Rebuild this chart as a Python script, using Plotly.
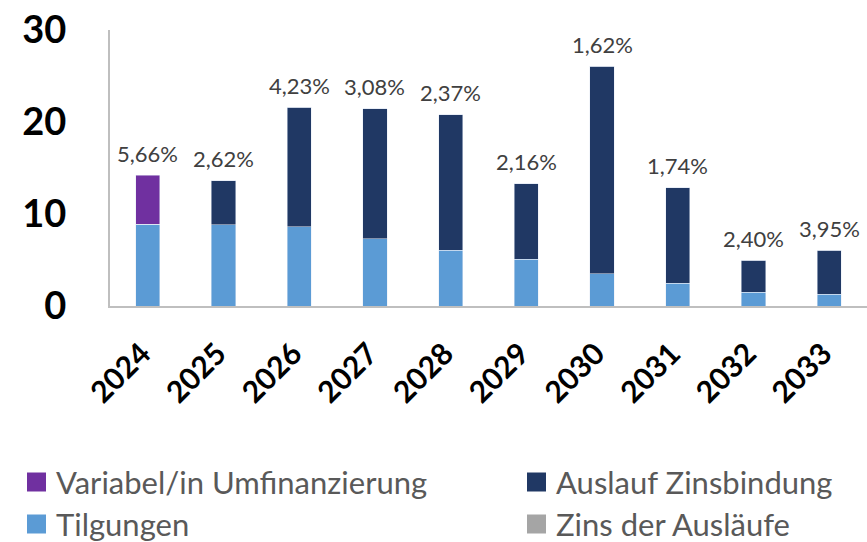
import plotly.graph_objects as go

years = ["2024", "2025", "2026", "2027", "2028", "2029", "2030", "2031", "2032", "2033"]
tilgungen = [8.9, 8.85, 8.6, 7.3, 6.05, 5.1, 3.5, 2.5, 1.5, 1.27]
auslauf_zinsbindung = [0, 4.75, 13.0, 14.15, 14.75, 8.2, 22.55, 10.35, 3.5, 4.8]
variabel = [5.3, 0, 0, 0, 0, 0, 0, 0, 0, 0]
zins_der_auslaeufe = [5.66, 2.62, 4.23, 3.08, 2.37, 2.16, 1.62, 1.74, 2.40, 3.95]
y_ticks = [0, 10, 20, 30]

C_VAR = "#7030A0"
C_AUS = "#203864"
C_TIL = "#5B9BD5"
C_ZINS = "#A5A5A5"
FONT = "Lato"

fig = go.Figure()
fig.add_bar(x=years, y=tilgungen, name="Tilgungen", marker_color=C_TIL, showlegend=False)
fig.add_bar(x=years, y=auslauf_zinsbindung, name="Auslauf Zinsbindung", marker_color=C_AUS, showlegend=False)
fig.add_bar(x=years, y=variabel, name="Variabel/in Umfinanzierung", marker_color=C_VAR, showlegend=False)

# interest-rate labels above each stacked column (x given as category index)
totals = [a + b + c for a, b, c in zip(tilgungen, auslauf_zinsbindung, variabel)]
for i, (tot, z) in enumerate(zip(totals, zins_der_auslaeufe)):
    fig.add_annotation(x=i, y=tot, text=f"{z:.2f}".replace(".", ",") + "%",
                       showarrow=False, yanchor="middle", yshift=22,
                       font=dict(family=FONT, size=22, color="#404040"))

# legend drawn as swatches + labels in two columns
legend_items = [
    ("Variabel/in Umfinanzierung", C_VAR, 27, 482),
    ("Auslauf Zinsbindung", C_AUS, 527, 482),
    ("Tilgungen", C_TIL, 27, 524),
    ("Zins der Ausläufe", C_ZINS, 527, 524),
]
W, H = 867, 542
for label, col, lx, ly in legend_items:
    fig.add_shape(type="rect", xref="paper", yref="paper",
                  x0=(lx - 110) / 757, x1=(lx + 19 - 110) / 757,
                  y0=(306 - ly - 9.5) / 276, y1=(306 - ly + 9.5) / 276,
                  fillcolor=col, line_width=0)
    fig.add_annotation(xref="paper", yref="paper", x=(lx + 27 - 110) / 757,
                       y=(306 - ly) / 276, text=label, showarrow=False,
                       xanchor="left", yanchor="middle",
                       font=dict(family=FONT, size=31, color="#595959"))

fig.update_layout(
    width=W, height=H,
    margin=dict(l=110, r=0, t=30, b=236),
    barmode="stack", bargap=0.68,
    plot_bgcolor="white", paper_bgcolor="white",
    font=dict(family=FONT),
)
fig.update_xaxes(type="category", showline=True, linecolor="#BFBFBF", linewidth=2,
                 showgrid=False, ticks="", tickangle=-45, ticklabelstandoff=16,
                 ticklabelshift=-6,
                 tickfont=dict(family=FONT, size=30, color="black", weight="bold"))
fig.update_yaxes(range=[0, 30], tickvals=y_ticks, showline=True, linecolor="#BFBFBF",
                 linewidth=2, showgrid=False, zeroline=False, ticks="",
                 ticklabelstandoff=34,
                 tickfont=dict(family=FONT, size=38, color="black", weight="bold"))

fig.write_html("out.html")
